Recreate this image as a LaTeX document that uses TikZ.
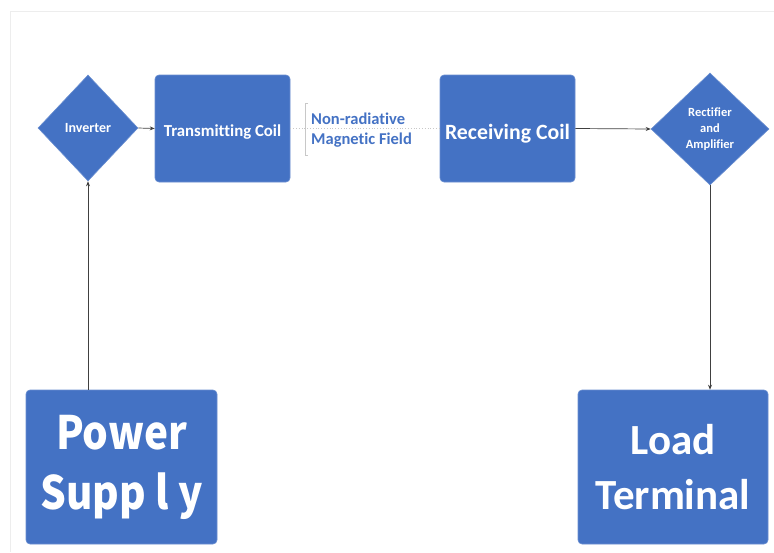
\documentclass[tikz,border=0pt]{standalone}
\usepackage{fontspec}
\setmainfont{Carlito}[Ligatures=NoCommon]
\newfontfamily\cjkfont{Noto Sans CJK SC}[FakeStretch=0.88]
\usetikzlibrary{shapes.geometric,arrows.meta}
\definecolor{boxblue}{HTML}{4472C4}
\definecolor{framegray}{HTML}{EDEDED}
\definecolor{notegray}{HTML}{C8C8C8}
\definecolor{arrowgray}{HTML}{404040}
\tikzset{
  blockbox/.style={draw=boxblue!80!white, line width=0.6pt, fill=boxblue, rounded corners=4pt, text=white, font=\bfseries, align=center, inner sep=0pt},
  decbox/.style={diamond, draw=boxblue!80!white, line width=0.6pt, fill=boxblue, text=white, font=\bfseries, align=center, inner sep=0pt},
  flow/.style={draw=arrowgray, line width=0.7pt, -{Stealth[length=5pt,width=4pt]}},
  frameline/.style={draw=framegray, line width=0.8pt},
}
\begin{document}
\begin{tikzpicture}[x=1pt,y=-1pt]
\useasboundingbox (0,0) rectangle (774,552);
\draw[frameline] (10,552) -- (10,11) -- (774,11);

\node[decbox, minimum width=100pt, minimum height=106pt, aspect=0.943, font=\bfseries\fontsize{14}{16}\selectfont] (inv) at (88,128) {Inverter};
\node[blockbox, minimum width=135pt, minimum height=107pt, font=\bfseries\fontsize{16.8}{19}\selectfont] (tc) at (222.5,128.5) {\raisebox{-2pt}[\height][0pt]{Transmitting Coil}};
\node[blockbox, minimum width=135pt, minimum height=107pt, font=\bfseries\fontsize{21.8}{25}\selectfont] (rc) at (507.5,128.5) {\raisebox{-3pt}[\height][0pt]{Receiving Coil}};
\node[decbox, minimum width=118pt, minimum height=112pt, aspect=1.05, font=\bfseries\fontsize{12.5}{16}\selectfont] (rect) at (710,129) {Rectifier\\and\\Amplifier};
\node[blockbox, minimum width=191pt, minimum height=154pt, font=\cjkfont\bfseries\fontsize{46}{60}\selectfont] (ps) at (121.5,467) {Power\\Supp l y};
\node[blockbox, minimum width=190pt, minimum height=154pt, font=\bfseries\fontsize{43}{55}\selectfont] (lt) at (673,467) {Load\\Terminal};

\draw[flow] (inv.east) -- (tc.west);
\draw[flow] (rc.east) -- (rect.west);
\draw[flow] (inv.south |- ps.north) -- (inv.south);
\draw[flow] (rect.south) -- (rect.south |- lt.north);
\draw[notegray, line width=0.8pt, dotted] (tc.east) -- (rc.west);

\coordinate (bt) at (305,103);
\coordinate (bb) at (305,155);
\draw[notegray, line width=0.8pt] ([xshift=3pt]bt) -- (bt) -- (bb) -- ([xshift=3pt]bb);
\node[anchor=west, text=boxblue, font=\bfseries\fontsize{16.5}{20}\selectfont, align=left, inner sep=0pt] (note) at (311,130) {Non-radiative\\Magnetic Field};
\end{tikzpicture}
\end{document}
